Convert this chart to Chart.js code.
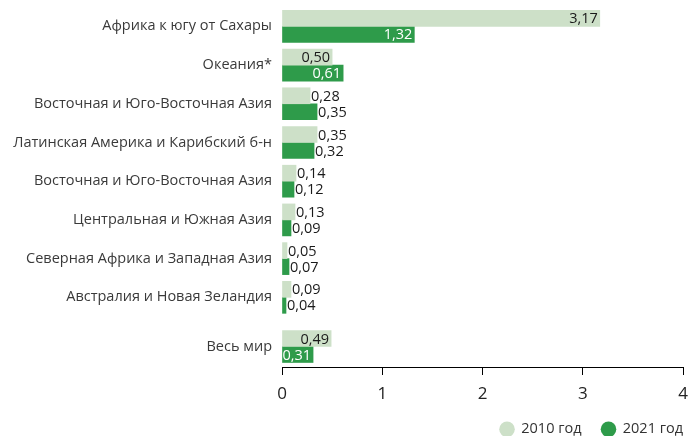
<!DOCTYPE html>
<html>
<head>
<meta charset="utf-8">
<script src="https://cdn.jsdelivr.net/npm/chart.js@4.4.1/dist/chart.umd.min.js"></script>
<style>
html,body{margin:0;padding:0;background:#fff;}
#wrap{width:689px;height:436px;}
</style>
</head>
<body>
<div id="wrap"><canvas id="c" width="689" height="436"></canvas></div>
<script>
const categories = [
  "Африка к югу от Сахары",
  "Океания*",
  "Восточная и Юго-Восточная Азия",
  "Латинская Америка и Карибский б-н",
  "Восточная и Юго-Восточная Азия",
  "Центральная и Южная Азия",
  "Северная Африка и Западная Азия",
  "Австралия и Новая Зеландия",
  "Весь мир"
];
const values2010 = [3.17, 0.50, 0.28, 0.35, 0.14, 0.13, 0.05, 0.09, 0.49];
const values2021 = [1.32, 0.61, 0.35, 0.32, 0.12, 0.09, 0.07, 0.04, 0.31];
const seriesNames = ["2010 год", "2021 год"];
const xTicks = [0, 1, 2, 3, 4];

const FONT = "'Open Sans', 'Noto Sans', sans-serif";
const LIGHT = "#cde0c8";
const DARK = "#2e9b4a";
const lastIdx = categories.length - 1;
// extra spacing before the "world" row
const positions = categories.map((c, i) => i + (i === lastIdx ? 0.27 : 0));

const fmt = v => v.toFixed(2).replace(".", ",");

const valueLabels = {
  id: "valueLabels",
  afterDatasetsDraw(chart) {
    const ctx = chart.ctx;
    ctx.save();
    ctx.font = "14.5px " + FONT;
    ctx.textBaseline = "middle";
    chart.data.datasets.forEach((ds, di) => {
      const meta = chart.getDatasetMeta(di);
      meta.data.forEach((bar, i) => {
        const v = ds.data[i].x;
        const txt = fmt(v);
        const inside = v >= 0.45 || i === lastIdx;
        if (inside) {
          ctx.textAlign = "right";
          ctx.fillStyle = di === 1 ? "#ffffff" : "#1a1a1a";
          ctx.fillText(txt, bar.x - 2, bar.y + 1);
        } else {
          ctx.textAlign = "left";
          ctx.fillStyle = "#1a1a1a";
          ctx.fillText(txt, bar.x + 1, bar.y + 1);
        }
      });
    });
    ctx.restore();
  }
};

const legendFit = {
  id: "legendFit",
  beforeInit(chart) {
    const lg = chart.legend;
    if (!lg) return;
    const origFit = lg.fit;
    lg.fit = function () {
      origFit.call(this);
      this.height = 34;
    };
    const origDraw = lg.draw;
    lg.draw = function () {
      const p = this.options.labels.padding;
      this.left += p; this.right += p;
      origDraw.call(this);
      this.left -= p; this.right -= p;
    };
  }
};

new Chart(document.getElementById("c"), {
  type: "bar",
  data: {
    datasets: [
      {
        label: seriesNames[0],
        data: values2010.map((v, i) => ({ x: v, y: positions[i] })),
        backgroundColor: LIGHT,
        borderWidth: 0,
        barThickness: 16
      },
      {
        label: seriesNames[1],
        data: values2021.map((v, i) => ({ x: v, y: positions[i] })),
        backgroundColor: DARK,
        borderWidth: 0,
        barThickness: 16
      }
    ]
  },
  options: {
    indexAxis: "y",
    responsive: false,
    devicePixelRatio: 1,
    animation: false,
    layout: { padding: { top: 7, right: 6, bottom: 0, left: 0 } },
    scales: {
      y: {
        type: "linear",
        reverse: true,
        offset: false,
        bounds: "data",
        min: -0.5,
        max: 8.8,
        afterBuildTicks(scale) {
          scale.ticks = positions.map(p => ({ value: p }));
        },
        afterFit(scale) {
          scale.width = 282;
          scale.paddingTop = 0;
          scale.paddingBottom = 0;
        },
        grid: { display: false, drawTicks: false, offset: false },
        border: { display: false },
        ticks: {
          autoSkip: false,
          padding: 10,
          color: "#3a3a3a",
          font: { family: FONT, size: 14.5 },
          callback: (v, i) => categories[i]
        }
      },
      x: {
        type: "linear",
        min: 0,
        max: 4,
        bounds: "data",
        afterBuildTicks(scale) {
          scale.ticks = xTicks.map(t => ({ value: t }));
        },
        afterFit(scale) {
          scale.height = 35;
          scale.paddingLeft = 0;
          scale.paddingRight = 0;
        },
        grid: { drawOnChartArea: false, drawTicks: true, tickLength: 8, color: "#000" },
        border: { display: true, color: "#000", width: 1 },
        ticks: {
          padding: 9,
          color: "#222",
          font: { family: FONT, size: 17 },
          callback: v => String(v)
        }
      }
    },
    plugins: {
      legend: {
        position: "bottom",
        align: "end",
        labels: {
          usePointStyle: true,
          pointStyle: "circle",
          boxWidth: 14,
          boxHeight: 11,
          padding: 20,
          color: "#333",
          font: { family: FONT, size: 14.5 }
        }
      },
      tooltip: { enabled: false }
    }
  },
  plugins: [valueLabels, legendFit]
});
</script>
</body>
</html>
